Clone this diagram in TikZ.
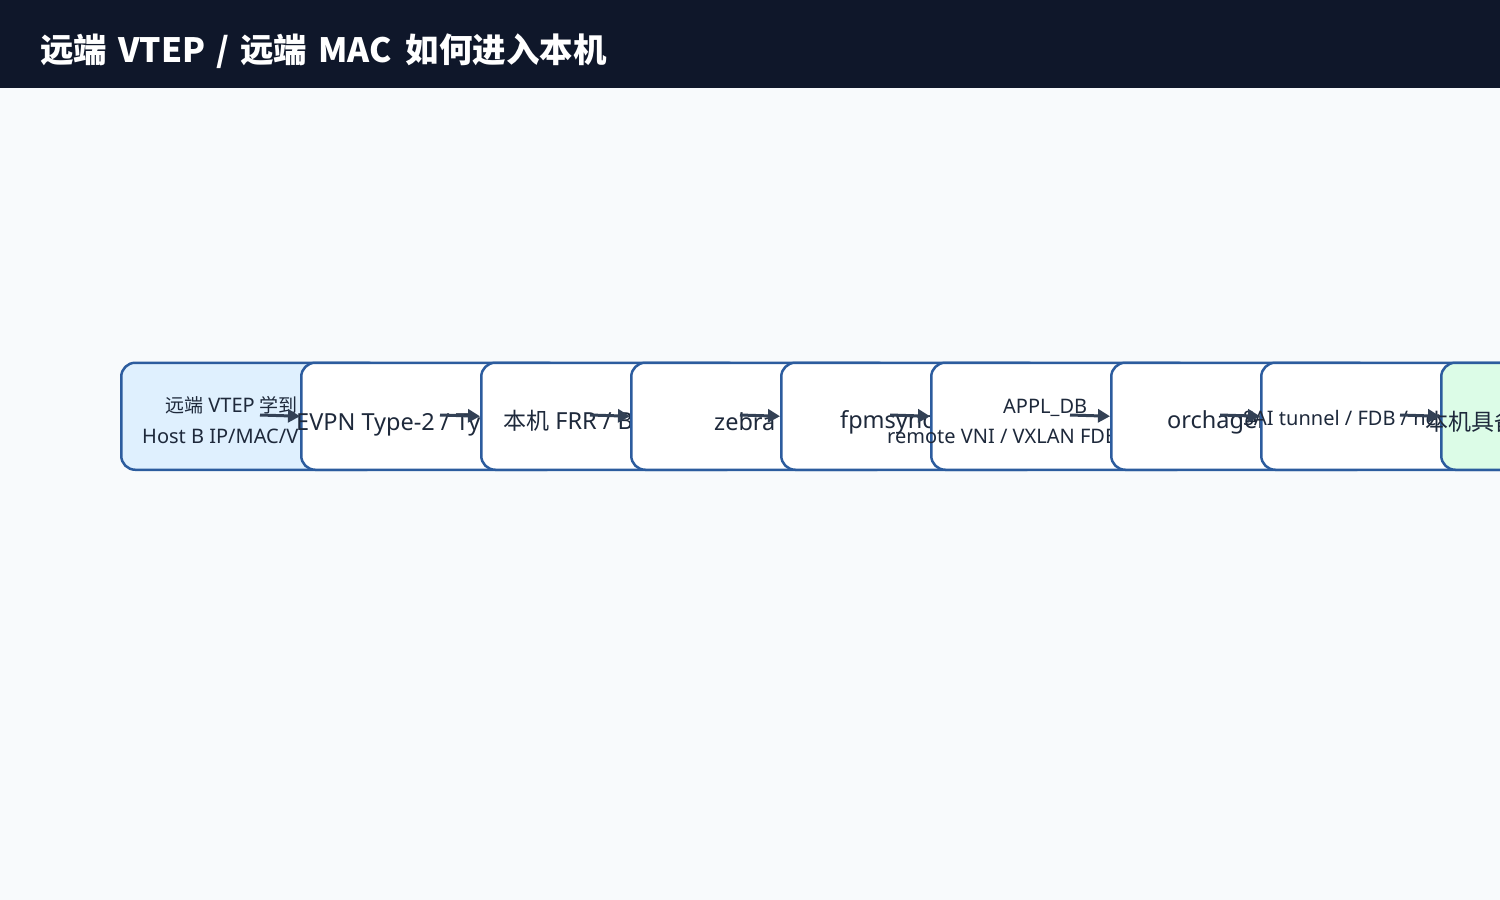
\documentclass[tikz,border=0pt]{standalone}
\usepackage{fontspec}
\setmainfont{Noto Sans}
\newfontfamily\cjk{Noto Sans CJK SC}
\newcommand\zhb[1]{{\cjk\fontsize{23}{27}\selectfont #1}}
\newcommand\zhs[1]{{\cjk\fontsize{19}{23}\selectfont #1}}
\usetikzlibrary{arrows.meta}
\definecolor{bg}{HTML}{F8FAFC}
\definecolor{header}{HTML}{0F172A}
\definecolor{boxblue}{HTML}{2C5C9E}
\definecolor{ink}{HTML}{1E293B}
\definecolor{arrowc}{HTML}{334155}
\definecolor{startfill}{HTML}{DFF0FE}
\definecolor{endfill}{HTML}{DCFCE7}
\begin{document}
\begin{tikzpicture}[x=1pt,y=-1pt,
  stage/.style={draw=boxblue, line width=2.5pt, rounded corners=14pt, fill=white,
    minimum width=260pt, minimum height=107pt, anchor=north west, inner sep=0pt},
  lbl/.style={anchor=base west, inner sep=0pt, text=ink},
  big/.style={font=\fontsize{23.5}{28}\selectfont},
  small/.style={font=\fontsize{20}{24}\selectfont},
  flow/.style={draw=arrowc, line width=3pt, -{Triangle[length=12pt,width=13pt]}}]
\useasboundingbox (0,0) rectangle (1500,900);
\fill[bg] (0,0) rectangle (1500,900);
\fill[header] (0,0) rectangle (1500,88);
\node[anchor=base west, inner sep=0pt, text=white, font=\cjk\fontsize{33.5}{38}\selectfont\bfseries] (title) at (40,62)
  {远端\hspace{11pt}VTEP\hspace{11pt}/\hspace{11pt}远端\hspace{11pt}MAC\hspace{14pt}如何进入本机};

\node[stage, fill=startfill] (b1) at (120,361.5) {};
\node[lbl, small] (l1a) at (165,412) {\zhs{远端} VTEP \zhs{学到}};
\node[lbl, small] (l1b) at (142,443) {Host B IP/MAC/VNI};

\node[stage] (b2) at (300,361.5) {};
\node[lbl, big] (l2) at (296,430) {EVPN Type-2 / Type-3};

\node[stage] (b3) at (480,361.5) {};
\node[lbl, big] (l3) at (503,429) {\zhb{本机} FRR / BGP};

\node[stage] (b4) at (630,361.5) {};
\node[lbl, big] (l4) at (714,430) {zebra};

\node[stage] (b5) at (780,361.5) {};
\node[lbl, big] (l5) at (840,428) {fpmsyncd};

\node[stage] (b6) at (930,361.5) {};
\node[lbl, small] (l6a) at (1003,413) {APPL\_DB};
\node[lbl, small] (l6b) at (887,443) {remote VNI / VXLAN FDB};

\node[stage] (b7) at (1110,361.5) {};
\node[lbl, big] (l7) at (1167,428) {orchagent};

\node[stage] (b8) at (1260,361.5) {};
\node[lbl, small] (l8) at (1243,425) {SAI tunnel / FDB / nexthop};

\node[stage, fill=endfill] (b9) at (1440,361.5) {};
\node[lbl, big] (l9) at (1425,430) {\zhb{本机具备}};

\coordinate (t1) at (260,415);
\coordinate (t2) at (440,415);
\coordinate (t3) at (590,415);
\coordinate (t4) at (740,415);
\coordinate (t5) at (890,415);
\coordinate (t6) at (1070,415);
\coordinate (t7) at (1220,415);
\coordinate (t8) at (1400,415);
\draw[flow] (t1) -- (b2.west);
\draw[flow] (t2) -- (b3.west);
\draw[flow] (t3) -- (b4.west);
\draw[flow] (t4) -- (b5.west);
\draw[flow] (t5) -- (b6.west);
\draw[flow] (t6) -- (b7.west);
\draw[flow] (t7) -- (b8.west);
\draw[flow] (t8) -- (b9.west);
\end{tikzpicture}
\end{document}
